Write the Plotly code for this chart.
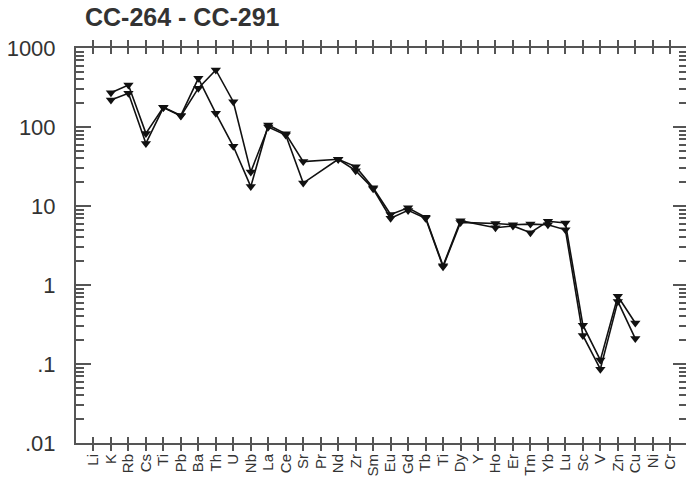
import plotly.graph_objects as go

elements = ["Li", "K", "Rb", "Cs", "Ti", "Pb", "Ba", "Th", "U", "Nb", "La", "Ce", "Sr", "Pr",
            "Nd", "Zr", "Sm", "Eu", "Gd", "Tb", "Ti", "Dy", "Y", "Ho", "Er", "Tm", "Yb", "Lu",
            "Sc", "V", "Zn", "Cu", "Ni", "Cr"]

sample_a = [None, 272, 340, 83, 178, 140, 413, 149, 57, 17.6, 106, 82, 36.5, None,
            39, 31.5, 17, 7.8, 9.5, 7.2, 1.75, 6.5, None, 5.3, 5.6, 4.6, 6.4, 6.1,
            0.31, 0.112, 0.72, 0.33, None, None]

sample_b = [None, 220, 267, 62, 176, 138, 310, 527, 209, 27, 100, 79, 19.5, None,
            39, 28, 16.5, 7.0, 8.8, 7.0, 1.7, 6.2, None, 6.0, 5.8, 5.9, 5.8, 5.0,
            0.23, 0.086, 0.62, 0.21, None, None]

y_tickvals = [0.01, 0.1, 1, 10, 100, 1000]
y_ticktext = [".01", ".1", "1", "10", "100", "1000"]

title_text = "CC-264 - CC-291"

x_idx = list(range(len(elements)))
minor_vals = [k * 10 ** e for e in range(-2, 3) for k in range(2, 10)]

fig = go.Figure()
for ser in (sample_a, sample_b):
    fig.add_trace(go.Scatter(
        x=x_idx, y=ser, mode="lines+markers", connectgaps=True,
        line=dict(color="#111111", width=1.6),
        marker=dict(symbol="triangle-down", size=9, color="#111111",
                    line=dict(width=0)),
        showlegend=False,
    ))
# empty trace so the right-hand tick axis is drawn
fig.add_trace(go.Scatter(x=[None], y=[None], yaxis="y2", showlegend=False,
                         hoverinfo="skip"))

axis_col = "#555555"
minor_cfg = dict(tickmode="array", tickvals=minor_vals, ticks="inside",
                 tickwidth=1.5, tickcolor=axis_col, showgrid=False)
fig.update_layout(
    width=686, height=477,
    margin=dict(l=76, r=0, t=48, b=34),
    paper_bgcolor="white", plot_bgcolor="white",
    font=dict(family="Liberation Sans, Arial, sans-serif", color="#333333"),
    title=dict(text="<b>" + title_text + "</b>", xref="container", yref="container",
               x=85 / 686, xanchor="left", y=1 - 17 / 477, yanchor="middle",
               font=dict(size=25, color="#333333")),
    xaxis=dict(
        range=[-1, 33.9], tickmode="array", tickvals=x_idx, ticktext=elements,
        tickangle=-90, ticks="inside", ticklen=6, tickwidth=1.5, tickcolor=axis_col,
        showline=True, linecolor=axis_col, linewidth=2, mirror="allticks",
        showgrid=False, zeroline=False, automargin=False,
        tickfont=dict(size=15, color="#333333"), ticklabelstandoff=3,
    ),
    yaxis=dict(
        type="log", range=[-2, 3], tickmode="array", tickvals=y_tickvals,
        ticktext=y_ticktext, ticks="inside", ticklen=15, tickwidth=1.5,
        tickcolor=axis_col, showline=True, linecolor=axis_col, linewidth=2,
        mirror=True, showgrid=False, zeroline=False, automargin=False,
        tickfont=dict(size=22, color="#333333"), ticklabelstandoff=14,
        minor=dict(ticklen=8, **minor_cfg),
    ),
    yaxis2=dict(
        type="log", range=[-2, 3], overlaying="y", side="right",
        tickmode="array", tickvals=y_tickvals, showticklabels=False,
        ticks="inside", ticklen=13, tickwidth=1.5, tickcolor=axis_col,
        showline=False, showgrid=False, zeroline=False, automargin=False,
        minor=dict(ticklen=7, **minor_cfg),
    ),
)

fig.write_html("out.html")
